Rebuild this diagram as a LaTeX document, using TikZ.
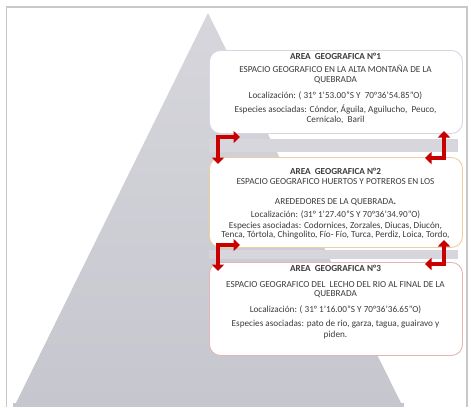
\documentclass[tikz,border=0pt]{standalone}
\usepackage{fontspec}
\setmainfont{Carlito}
\usetikzlibrary{arrows.meta}
\definecolor{trigray}{RGB}{198,198,206}
\definecolor{trigraylt}{RGB}{214,214,220}
\definecolor{framegray}{RGB}{200,200,200}
\definecolor{arrowred}{RGB}{200,0,0}
\definecolor{txt}{RGB}{60,60,60}
\definecolor{b1border}{RGB}{215,215,225}
\definecolor{b2border}{RGB}{240,205,160}
\definecolor{b3border}{RGB}{230,180,180}
\begin{document}
\begin{tikzpicture}[x=1pt,y=-1pt,
  box/.style={draw, line width=0.9pt, rounded corners=11pt, fill=white, minimum width=253pt, inner sep=0pt, anchor=north west},
  label/.style={align=center, text=txt, font=\fontsize{9.2}{9.5}\selectfont, inner sep=0pt},
  elbow/.style={draw=arrowred, line width=4.4pt, {Triangle[width=12pt,length=6.5pt]}-{Triangle[width=12pt,length=6.5pt]}},
  strip/.style={fill=trigraylt, draw=none}
]
\useasboundingbox (0,0) rectangle (471,407);
\fill[white] (0,0) rectangle (471,407);
% frame
\draw[framegray, line width=1.6pt] (6.5,407) -- (6.5,7) -- (467,7) -- (467,407);
% pyramid
\shade[top color=trigraylt, bottom color=trigray] (208,13) -- (402,405) -- (15,405) -- cycle;
\fill[trigray] (13,403) rectangle (404,407);
% strips between boxes
\fill[strip] (209,139) rectangle (458,152);
\fill[strip] (209,250) rectangle (458,259);
% boxes
\node[box, draw=b1border, minimum height=83pt] (b1) at (209,50) {};
\node[box, draw=b2border, minimum height=90pt] (b2) at (209,157) {};
\node[box, draw=b3border, minimum height=93pt] (b3) at (209,262) {};
% texts
\node[label, anchor=north] (t1) at (335.5,52.5) {\textbf{AREA\ \ GEOGRAFICA N°1}\\[4.3pt]
ESPACIO GEOGRAFICO EN LA ALTA MONTAÑA DE LA\\
QUEBRADA\\[6.3pt]
Localización: ( 31° 1'53.00"S Y\ \ 70°36'54.85"O)\\[5.3pt]
Especies asociadas: Cóndor, Águila, Aguilucho,\ \ Peuco,\\
Cernicalo,\ \ Baril};
\node[label, anchor=north] (t2) at (335.5,167.5) {\textbf{AREA\ \ GEOGRAFICA N°2}\\[0.5pt]
ESPACIO GEOGRAFICO HUERTOS Y POTREROS EN LOS\\[10.5pt]
AREDEDORES DE LA QUEBRADA\textbf{.}\\[3.5pt]
Localización: (31° 1'27.40"S Y 70°36'34.90"O)\\[1.5pt]
Especies asociadas: Codornices, Zorzales, Diucas, Diucón,\\
Tenca, Tórtola, Chingolito, Fío- Fío, Turca, Perdiz, Loica, Tordo,};
\node[label, anchor=north] (t3) at (335.5,264.5) {\textbf{AREA\ \ GEOGRAFICA N°3}\\[6.5pt]
ESPACIO GEOGRAFICO DEL\ \ LECHO DEL RIO AL FINAL DE LA\\
QUEBRADA\\[6.5pt]
Localización: ( 31° 1'16.00"S Y 70°36'36.65"O)\\[4.5pt]
Especies asociadas: pato de rio, garza, tagua, guairavo y\\[1.5pt]
piden.};
% elbow arrows
\coordinate (l1a) at (240,137); \coordinate (l1c) at (218,137); \coordinate (l1b) at (218,164);
\coordinate (r1a) at (444,131); \coordinate (r1c) at (444,158); \coordinate (r1b) at (425,158);
\coordinate (l2a) at (240,245); \coordinate (l2c) at (218,245); \coordinate (l2b) at (218,271);
\coordinate (r2a) at (444,240); \coordinate (r2c) at (444,264); \coordinate (r2b) at (425,264);
\draw[elbow] (l1a) -- (l1c) -- (l1b);
\draw[elbow] (r1a) -- (r1c) -- (r1b);
\draw[elbow] (l2a) -- (l2c) -- (l2b);
\draw[elbow] (r2a) -- (r2c) -- (r2b);
\end{tikzpicture}
\end{document}
